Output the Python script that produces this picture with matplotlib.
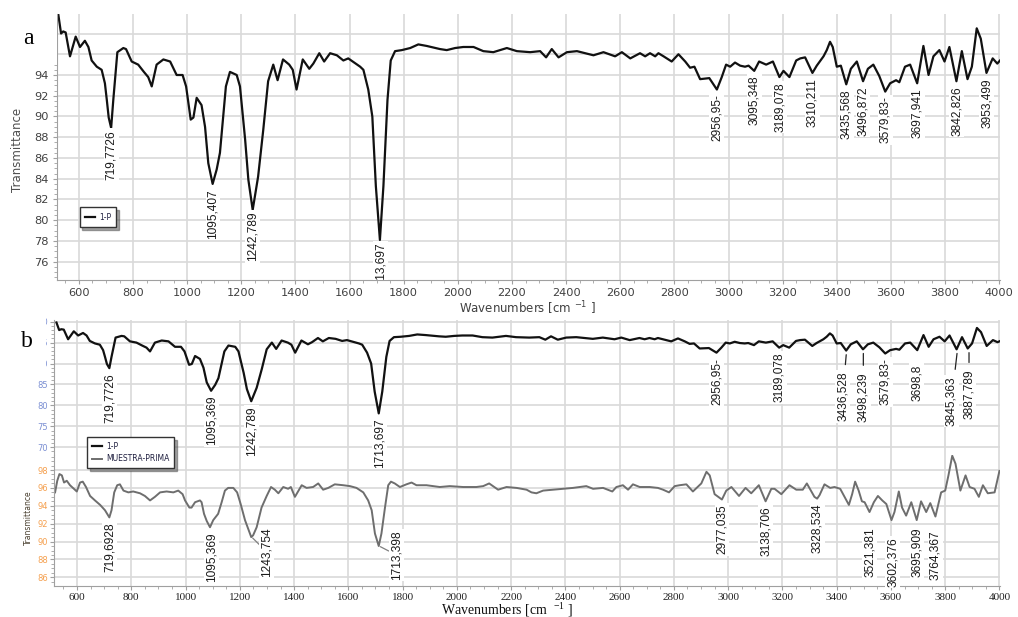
import matplotlib
matplotlib.use('Agg')
import matplotlib.pyplot as plt
import numpy as np
from matplotlib.patches import Rectangle
from matplotlib.ticker import MultipleLocator

# spectrum 1-P (wavenumber, transmittance)
wn_1p = [524, 534, 542, 551, 567, 588, 604, 622, 635, 647, 666, 684, 696, 703, 710, 719, 727, 742,
         764, 774, 795, 819, 840, 856, 869, 887, 912, 937, 961, 983, 996, 1013, 1023, 1035, 1053,
         1066, 1078, 1094, 1109, 1121, 1143, 1158, 1183, 1195, 1214, 1226, 1242, 1262, 1281, 1299,
         1318, 1334, 1354, 1377, 1390, 1404, 1427, 1451, 1466, 1488, 1506, 1528, 1553, 1577, 1595,
         1639, 1651, 1669, 1684, 1697, 1712, 1725, 1740, 1752, 1768, 1793, 1824, 1854, 1885, 1934,
         1959, 1990, 2020, 2058, 2094, 2131, 2181, 2218, 2267, 2304, 2326, 2347, 2372, 2403, 2440,
         2501, 2538, 2581, 2606, 2637, 2673, 2692, 2710, 2729, 2741, 2760, 2790, 2815, 2840, 2858,
         2874, 2895, 2929, 2957, 2975, 2991, 3006, 3024, 3043, 3061, 3074, 3095, 3113, 3139, 3164,
         3188, 3203, 3225, 3250, 3265, 3283, 3310, 3326, 3351, 3363, 3375, 3385, 3400, 3415, 3435,
         3452, 3474, 3497, 3515, 3535, 3557, 3579, 3597, 3619, 3631, 3652, 3671, 3697, 3720, 3739,
         3757, 3779, 3798, 3816, 3842, 3862, 3883, 3899, 3917, 3932, 3953, 3976, 3993, 4003]
t_1p = [99.8, 98.0, 98.2, 98.1, 95.8, 97.7, 96.7, 97.3, 96.7, 95.4, 94.8, 94.5, 93.2, 91.6, 89.9,
        88.9, 91.6, 96.2, 96.6, 96.5, 95.3, 95.0, 94.3, 93.8, 92.9, 95.0, 95.5, 95.3, 94.0, 94.0,
        92.9, 89.7, 89.9, 91.8, 91.1, 89.0, 85.5, 83.5, 84.9, 86.5, 92.9, 94.3, 94.0, 92.9, 87.8,
        83.9, 81.0, 84.2, 88.7, 93.4, 95.0, 93.5, 95.5, 95.0, 94.5, 92.6, 95.5, 94.6, 95.1, 96.1,
        95.3, 96.1, 95.9, 95.4, 95.6, 94.8, 94.5, 92.6, 90.0, 83.3, 78.1, 83.3, 91.6, 95.4, 96.3,
        96.4, 96.6, 96.95, 96.8, 96.5, 96.4, 96.6, 96.7, 96.7, 96.3, 96.2, 96.6, 96.3, 96.2, 96.3,
        95.7, 96.5, 95.7, 96.2, 96.3, 95.9, 96.2, 95.8, 96.2, 95.6, 96.1, 95.8, 96.1, 95.8, 96.1,
        95.8, 95.3, 96.0, 95.3, 94.7, 94.8, 93.6, 93.7, 92.6, 93.8, 95.0, 94.8, 95.2, 94.9, 94.8,
        94.9, 94.4, 95.3, 95.0, 95.3, 93.8, 94.4, 93.8, 95.4, 95.6, 95.7, 94.2, 94.9, 95.8, 96.4,
        97.2, 96.7, 94.8, 94.9, 93.1, 94.6, 95.3, 93.4, 94.6, 95.0, 93.9, 92.4, 93.2, 93.5, 93.3,
        94.8, 95.0, 93.2, 96.8, 94.0, 95.8, 96.4, 95.3, 96.7, 93.4, 96.3, 93.6, 94.8, 98.5, 97.5,
        94.2, 95.6, 95.1, 95.4]

# spectrum MUESTRA-PRIMA
wn_mp = [519, 527, 535, 544, 552, 562, 574, 599, 611, 621, 633, 648, 666, 685, 703, 719, 727, 737,
         748, 758, 771, 789, 807, 832, 850, 869, 887, 906, 930, 955, 973, 989, 998, 1014, 1022, 1035,
         1053, 1059, 1068, 1078, 1090, 1102, 1120, 1133, 1145, 1157, 1176, 1190, 1203, 1219, 1242,
         1249, 1262, 1280, 1299, 1315, 1329, 1342, 1360, 1378, 1388, 1403, 1428, 1446, 1470, 1489,
         1507, 1526, 1550, 1581, 1606, 1630, 1655, 1673, 1686, 1698, 1712, 1722, 1735, 1747, 1757,
         1771, 1790, 1814, 1833, 1851, 1888, 1937, 1974, 2023, 2072, 2097, 2119, 2152, 2183, 2220,
         2257, 2275, 2293, 2318, 2354, 2391, 2428, 2477, 2502, 2539, 2573, 2588, 2612, 2631, 2649,
         2674, 2711, 2741, 2760, 2782, 2803, 2821, 2846, 2870, 2901, 2920, 2932, 2950, 2977, 2993,
         3012, 3040, 3064, 3085, 3113, 3138, 3159, 3171, 3196, 3226, 3251, 3275, 3290, 3318, 3328,
         3337, 3355, 3376, 3392, 3413, 3429, 3445, 3457, 3468, 3481, 3493, 3503, 3521, 3537, 3552,
         3568, 3583, 3602, 3613, 3629, 3641, 3656, 3675, 3695, 3711, 3730, 3745, 3764, 3785, 3800,
         3812, 3826, 3838, 3856, 3875, 3890, 3908, 3924, 3939, 3957, 3982, 4000]
t_mp = [95.5, 96.8, 97.55, 97.4, 96.6, 96.8, 96.3, 95.6, 96.6, 96.7, 96.1, 95.1, 94.6, 94.1, 93.5,
        92.7, 93.5, 95.5, 96.3, 96.4, 95.7, 95.5, 95.6, 95.4, 95.1, 94.6, 95.0, 95.5, 95.6, 95.5,
        95.7, 95.3, 94.6, 93.8, 93.8, 94.4, 94.6, 94.4, 93.1, 92.3, 91.6, 92.4, 93.1, 94.4, 95.7,
        96.0, 96.0, 95.5, 94.2, 92.4, 90.5, 90.7, 91.6, 93.8, 95.1, 96.1, 95.8, 95.4, 96.1, 95.9,
        96.1, 95.0, 96.3, 96.0, 96.1, 96.5, 95.8, 96.0, 96.4, 96.3, 96.2, 96.0, 95.5, 94.6, 93.5,
        90.9, 89.5, 90.9, 93.8, 96.3, 96.7, 96.5, 96.1, 96.4, 96.6, 96.3, 96.3, 96.1, 96.2, 96.1,
        96.1, 96.2, 96.5, 95.8, 96.1, 96.0, 95.8, 95.5, 95.4, 95.7, 95.8, 95.9, 96.0, 96.2, 95.9,
        96.0, 95.6, 96.1, 96.3, 95.8, 96.4, 96.1, 96.1, 96.0, 95.8, 95.5, 96.2, 96.3, 96.4, 95.6,
        96.5, 97.8, 97.4, 95.3, 94.7, 95.7, 96.1, 95.1, 96.0, 95.4, 96.3, 94.5, 95.9, 95.9, 95.3,
        96.3, 95.8, 95.8, 96.5, 95.0, 94.8, 95.2, 96.4, 96.0, 96.1, 95.9, 95.0, 94.1, 95.3, 96.7,
        95.7, 94.5, 94.4, 93.3, 94.4, 95.1, 94.6, 94.2, 92.4, 93.3, 95.6, 93.8, 92.9, 94.4, 92.4,
        94.5, 93.3, 94.3, 92.8, 95.5, 95.7, 97.4, 99.6, 98.7, 95.7, 97.4, 96.1, 95.9, 95.0, 96.3,
        95.4, 95.5, 97.9]

# peak labels
peaks_a = ['719,7726', '1095,407', '1242,789', '1713,697', '2956,95-', '3095,348', '3189,078',
           '3310,211', '3435,568', '3496,872', '3579,83-', '3697,941', '3842,826', '3953,499']
peaks_a_wn = [719.77, 1095.41, 1242.79, 1713.70, 2956.95, 3095.35, 3189.08, 3310.21, 3435.57,
              3496.87, 3579.83, 3697.94, 3842.83, 3953.50]
peaks_b1 = ['719,7726', '1095,369', '1242,789', '1713,697', '2956,95-', '3189,078', '3436,528',
            '3498,239', '3579,83-', '3698,8', '3845,363', '3887,789']
peaks_b1_wn = [719.77, 1095.37, 1242.79, 1713.70, 2956.95, 3189.08, 3436.53, 3498.24, 3579.83,
               3698.8, 3845.36, 3887.79]
peaks_b2 = ['719,6928', '1095,369', '1243,754', '1713,398', '2977,035', '3138,706', '3328,534',
            '3521,381', '3602,376', '3695,909', '3764,367']
peaks_b2_wn = [719.69, 1095.37, 1243.75, 1713.40, 2977.04, 3138.71, 3328.53, 3521.38, 3602.38,
               3695.91, 3764.37]

W, H = 1018, 617


def px_box(x0, y0, x1, y1):
    return [x0 / W, 1 - y1 / H, (x1 - x0) / W, (y1 - y0) / H]


def style(ax):
    for s in ['top', 'right']:
        ax.spines[s].set_visible(False)
    for s in ['left', 'bottom']:
        ax.spines[s].set_color('#a0a0a0')
    ax.grid(True, color='#d9d9d9', lw=1.2)
    ax.set_axisbelow(True)
    ax.tick_params(which='both', color='#a0a0a0', direction='out')
    ax.tick_params(which='major', length=3)
    ax.tick_params(which='minor', length=2)
    ax.xaxis.set_major_locator(MultipleLocator(200))
    ax.xaxis.set_minor_locator(MultipleLocator(50))


def label_peaks(ax, wn, t, names, pos, default, offsets=None, leaders=(), lcolor='k',
                clip=False, shrink=(4, 3)):
    # offsets in pixels: (right, down) from the peak minimum to the top of the label
    offsets = offsets or {}
    wn = np.asarray(wn)
    t = np.asarray(t)
    for name, p in zip(names, pos):
        y = t[np.abs(wn - p) <= 12].min()
        dx, dy = offsets.get(name, default)
        kw = {}
        if name in leaders:
            kw['arrowprops'] = dict(arrowstyle='-', color=lcolor, lw=0.9,
                                    shrinkA=shrink[0], shrinkB=shrink[1])
        ax.annotate(name, xy=(p, y), xytext=(dx * 0.72, -dy * 0.72), textcoords='offset points',
                    rotation=90, ha='center', va='top', fontsize=8.6, family='Liberation Sans',
                    color='#1a1a1a', zorder=4, clip_on=clip,
                    bbox=dict(boxstyle='square,pad=0.12', fc='white', ec='none'), **kw)


fig = plt.figure(figsize=(W / 100, H / 100), dpi=100)

# ---- panel a
ax_a = fig.add_axes(px_box(57, 14, 1000, 280))
style(ax_a)
line_a, = ax_a.plot(wn_1p, t_1p, color='#111111', lw=1.6, solid_joinstyle='round')
ax_a.set_xlim(519, 4003)
ax_a.set_ylim(74.24, 99.88)
ax_a.yaxis.set_major_locator(MultipleLocator(2))
ax_a.yaxis.set_minor_locator(MultipleLocator(0.5))
ax_a.tick_params(labelsize=8.2, labelcolor='#404040', pad=3)
label_peaks(ax_a, wn_1p, t_1p, peaks_a, peaks_a_wn, (0, 5),
            {'719,7726': (0, 2), '1242,789': (0, 2), '1713,697': (0, 2.5)}, clip=True)
ax_a.legend([line_a], ['1-P'], loc='lower left', bbox_to_anchor=(0.024, 0.199), borderaxespad=0,
            fancybox=False, shadow=True, framealpha=1, edgecolor='#333333',
            prop=dict(size=5.5), labelcolor='#202040', handlelength=1.3, borderpad=0.7,
            handletextpad=0.5)

fig.text(527 / W, 1 - 308 / H, r'Wavenumbers [cm $^{-1}$ ]', ha='center', va='center',
         fontsize=8.5, color='#404040')
fig.text(18 / W, 1 - 150 / H, 'Transmittance', rotation=90, ha='center', va='center',
         fontsize=8.5, color='#505050')

# ---- panel b
ax_b1 = fig.add_axes(px_box(54, 320, 1000, 455))
ax_b2 = fig.add_axes(px_box(54, 455, 1000, 586))
ax_b1.set_zorder(2)
ax_b2.set_zorder(1)
for ax in (ax_b1, ax_b2):
    style(ax)
    ax.set_xlim(515, 4002)

line_b1, = ax_b1.plot(wn_1p, t_1p, color='#111111', lw=1.6, solid_joinstyle='round')
ax_b1.set_ylim(68.16, 100.4)
ax_b1.spines['bottom'].set_visible(False)
ax_b1.tick_params(axis='x', which='both', bottom=False, labelbottom=False)
ax_b1.yaxis.set_major_locator(MultipleLocator(5))
ax_b1.yaxis.set_minor_locator(MultipleLocator(1))
ax_b1.tick_params(axis='y', labelsize=6, labelcolor='#7b8fd3', pad=1.5)

line_b2, = ax_b2.plot(wn_mp, t_mp, color='#6e6e6e', lw=1.4, solid_joinstyle='round')
ax_b2.set_ylim(85.03, 99.68)
ax_b2.yaxis.set_major_locator(MultipleLocator(2))
ax_b2.yaxis.set_minor_locator(MultipleLocator(0.5))
ax_b2.tick_params(axis='y', labelsize=6, labelcolor='#f5a04f', pad=1.5)
ax_b2.tick_params(axis='x', labelsize=8, labelcolor='#222222', pad=2)
for lab in ax_b2.get_xticklabels():
    lab.set_family('Liberation Serif')

label_peaks(ax_b1, wn_1p, t_1p, peaks_b1, peaks_b1_wn, (0, 5),
            {'3436,528': (-4, 21), '3498,239': (0, 23), '3845,363': (-6, 27),
             '3887,789': (0, 21), '3698,8': (-1, 14)},
            leaders=('3436,528', '3498,239', '3845,363', '3887,789'), lcolor='#222222')
label_peaks(ax_b2, wn_mp, t_mp, peaks_b2, peaks_b2_wn, (0, 5),
            {'1243,754': (15, -10), '1713,398': (17, -16), '3521,381': (0, 15),
             '3602,376': (1, 17), '3764,367': (0, 14), '3695,909': (0, 7)},
            leaders=('1243,754', '1713,398'), lcolor='#808080', shrink=(0, 1))

fig.legend([line_b1, line_b2], ['1-P', 'MUESTRA-PRIMA'], loc='lower left',
           bbox_to_anchor=(87 / W, 1 - 468 / H), borderaxespad=0, fancybox=False, shadow=True,
           framealpha=1, edgecolor='#333333', prop=dict(size=5.5), labelcolor='#202040',
           handlelength=1.3, borderpad=0.6, handletextpad=0.6, labelspacing=0.5)

fig.text(507 / W, 1 - 610 / H, r'Wavenumbers [cm  $\mathregular{^{-1}}$ ]', ha='center',
         va='center', fontsize=10, family='Liberation Serif', color='#111111')
fig.text(28 / W, 1 - 518 / H, 'Transmittance', rotation=90, ha='center', va='center',
         fontsize=5.5, color='#4a4030')

# white boxes behind the panel letters
fig.add_artist(Rectangle((0, 1 - 65 / H), 57.3 / W, 65 / H, transform=fig.transFigure,
                         fc='white', ec='none', zorder=10))
fig.add_artist(Rectangle((0, 1 - 375 / H), 46 / W, 60 / H, transform=fig.transFigure,
                         fc='white', ec='none', zorder=10))
fig.text(28 / W, 1 - 38 / H, 'a', family='Liberation Serif', fontsize=17, ha='center',
         va='center', zorder=11)
fig.text(27 / W, 1 - 342 / H, 'b', family='Liberation Serif', fontsize=17, ha='center',
         va='center', zorder=11)

fig.savefig('out.png', dpi=100)
